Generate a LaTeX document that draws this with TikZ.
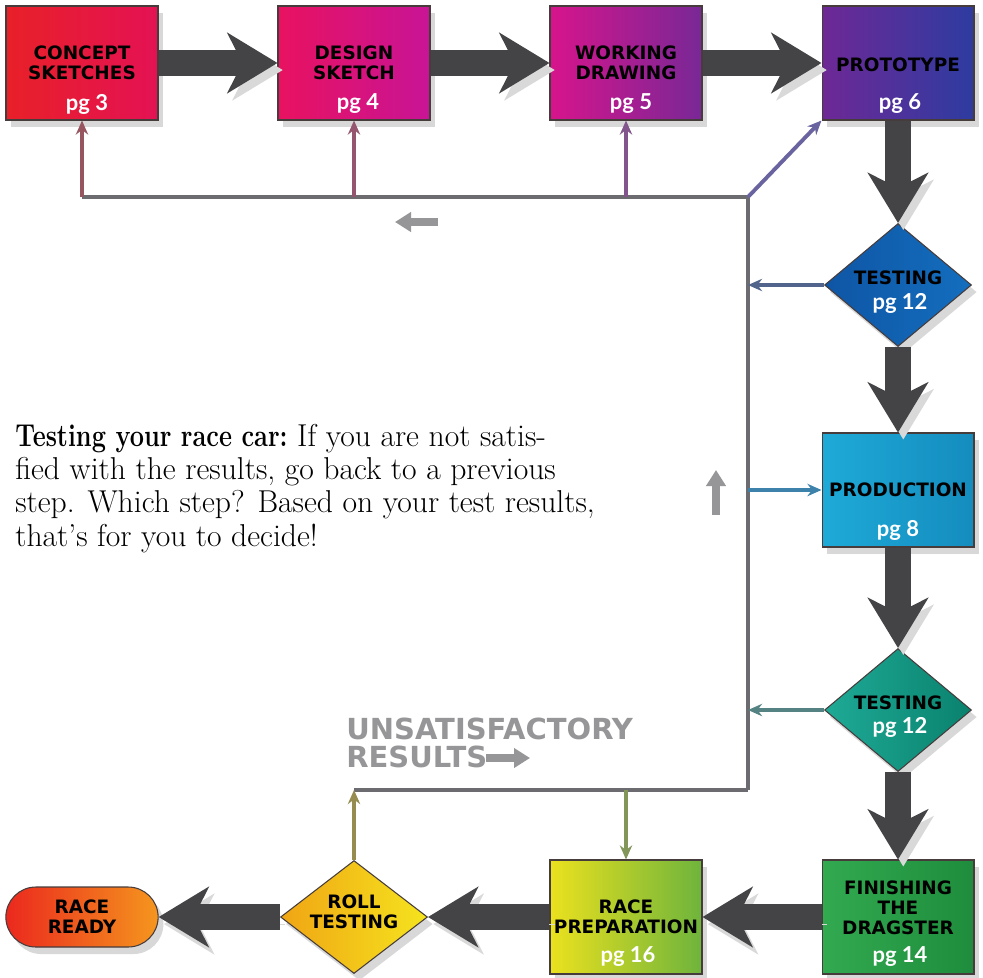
\documentclass[tikz,border=0pt]{standalone}
\usepackage{fontspec}
\newfontfamily\boxfont{DejaVu Sans}
\newfontfamily\pgfont{Lato}
\usetikzlibrary{arrows.meta,shapes.geometric,shapes.misc,shadows}

\definecolor{arrowgray}{RGB}{68,68,70}
\definecolor{linegray}{RGB}{108,108,112}
\definecolor{hintgray}{RGB}{150,150,152}
\definecolor{framegray}{RGB}{70,60,60}
\definecolor{fbconcept}{RGB}{150,85,95}
\definecolor{fbdesign}{RGB}{150,85,110}
\definecolor{fbworking}{RGB}{130,85,140}
\definecolor{fbproto}{RGB}{105,100,160}
\definecolor{fbtesta}{RGB}{80,100,140}
\definecolor{fbprod}{RGB}{60,130,170}
\definecolor{fbtestb}{RGB}{85,130,130}
\definecolor{fbroll}{RGB}{150,140,80}
\definecolor{fbprep}{RGB}{130,150,90}

\begin{document}
\begin{tikzpicture}[x=0.02cm,y=-0.02cm,
  stepbox/.style={draw=framegray, line width=0.6pt, minimum width=3.04cm, minimum height=2.28cm, inner sep=0pt,
    drop shadow={shadow xshift=3pt,shadow yshift=-4pt,opacity=0.3}},
  testbox/.style={diamond, draw=framegray, line width=0.6pt, minimum width=2.94cm, minimum height=2.46cm, inner sep=0pt,
    drop shadow={shadow xshift=3pt,shadow yshift=-4pt,opacity=0.3}},
  title/.style={font=\boxfont\bfseries\fontsize{10.5}{11.5}\selectfont, align=center, inner sep=0pt},
  page/.style={font=\pgfont\bfseries\fontsize{12.5}{12.5}\selectfont, text=white, inner sep=0pt},
  bigarrow/.style={draw=arrowgray, line width=0.52cm, -{Stealth[length=1.0cm,width=1.2cm,inset=0.3cm]},
    preaction={draw=black!15, transform canvas={shift={(3pt,-4pt)}}}},
  fb/.style={draw=linegray, line width=2.2pt},
  fbarrow/.style={line width=2.2pt, -{Stealth[length=8pt,width=7pt]}},
  hint/.style={draw=hintgray, line width=0.17cm, -{Triangle[length=0.32cm,width=0.38cm]}}
]
\fill[white] (0,0) rectangle (983,977);
\useasboundingbox (0,0) rectangle (983,977);

% top row
\node[stepbox, left color={rgb,255:red,232;green,32;blue,40}, right color={rgb,255:red,228;green,18;blue,84}] (cs) at (82,63) {};
\node[title] (cst) at (82,63) {CONCEPT\\SKETCHES};
\node[page] (csp) at (87,104) {pg 3};

\node[stepbox, left color={rgb,255:red,232;green,18;blue,96}, right color={rgb,255:red,200;green,20;blue,150}] (ds) at (354,63) {};
\node[title] (dst) at (354,63) {DESIGN\\SKETCH};
\node[page] (dsp) at (358,104) {pg 4};

\node[stepbox, left color={rgb,255:red,215;green,20;blue,140}, right color={rgb,255:red,120;green,40;blue,150}] (wd) at (626,63) {};
\node[title] (wdt) at (626,63) {WORKING\\DRAWING};
\node[page] (wdp) at (631,104) {pg 5};

\node[stepbox, left color={rgb,255:red,110;green,40;blue,150}, right color={rgb,255:red,45;green,60;blue,160}] (pr) at (898,63) {};
\node[title] (prt) at (898,65) {PROTOTYPE};
\node[page] (prp) at (900,104) {pg 6};

% right column
\node[testbox, left color={rgb,255:red,15;green,85;blue,165}, right color={rgb,255:red,20;green,110;blue,190}] (ta) at (898,285) {};
\node[title] (tat) at (898,278) {TESTING};
\node[page] (tap) at (900,303) {pg 12};

\node[stepbox, left color={rgb,255:red,30;green,170;blue,215}, right color={rgb,255:red,20;green,140;blue,190}] (pd) at (898,490) {};
\node[title] (pdt) at (898,490) {PRODUCTION};
\node[page] (pdp) at (898,530) {pg 8};

\node[testbox, left color={rgb,255:red,30;green,170;blue,150}, right color={rgb,255:red,10;green,130;blue,110}] (tb) at (898,710) {};
\node[title] (tbt) at (898,703) {TESTING};
\node[page] (tbp) at (900,727) {pg 12};

% bottom row
\node[stepbox, left color={rgb,255:red,50;green,170;blue,80}, right color={rgb,255:red,30;green,140;blue,60}] (fd) at (898,917) {};
\node[title] (fdt) at (898,908) {FINISHING\\THE\\DRAGSTER};
\node[page] (fdp) at (900,957) {pg 14};

\node[stepbox, left color={rgb,255:red,235;green,225;blue,30}, right color={rgb,255:red,110;green,180;blue,60}] (rp) at (626,917) {};
\node[title] (rpt) at (626,917) {RACE\\PREPARATION};
\node[page] (rpp) at (628,957) {pg 16};

\node[testbox, minimum height=2.26cm, left color={rgb,255:red,240;green,165;blue,20}, right color={rgb,255:red,245;green,228;blue,30}] (rt) at (354,917) {};
\node[title] (rtt) at (354,912) {ROLL\\TESTING};

\node[rounded rectangle, draw=framegray, line width=0.6pt, minimum width=3.28cm, minimum height=1.2cm,
  left color={rgb,255:red,235;green,40;blue,30}, right color={rgb,255:red,245;green,150;blue,30},
  drop shadow={shadow xshift=3pt,shadow yshift=-4pt,opacity=0.3}] (rr) at (82,917) {};
\node[title] (rrt) at (82,917) {RACE\\READY};

% main flow
\draw[bigarrow] (cs.east) -- (ds.west);
\draw[bigarrow] (ds.east) -- (wd.west);
\draw[bigarrow] (wd.east) -- (pr.west);
\draw[bigarrow] (pr.south) -- (ta.north);
\draw[bigarrow] (ta.south) -- (pd.north);
\draw[bigarrow] (pd.south) -- (tb.north);
\draw[bigarrow] (tb.south) -- (fd.north);
\draw[bigarrow] (fd.west) -- (rp.east);
\draw[bigarrow] (rp.west) -- (rt.east);
\draw[bigarrow] (rt.west) -- (rr.east);

% feedback loop
\coordinate (jtop) at (748,197);
\coordinate (jbot) at (748,790);
\draw[fb] (jbot) -- (jtop) -- (cs.south |- jtop);
\draw[fbarrow, fbconcept] (cs.south |- jtop) -- (cs.south);
\draw[fbarrow, fbdesign] (ds.south |- jtop) -- (ds.south);
\draw[fbarrow, fbworking] (wd.south |- jtop) -- (wd.south);
\draw[fbarrow, fbproto] (jtop) -- (pr.south west);
\draw[fbarrow, fbtesta] (ta.west) -- (ta.west -| jtop);
\draw[fbarrow, fbprod] (pd.west -| jtop) -- (pd.west);
\draw[fbarrow, fbtestb] (tb.west) -- (tb.west -| jtop);
\draw[fb] (jbot) -- (rt.north |- jbot);
\draw[fbarrow, fbroll] (rt.north) -- (rt.north |- jbot);
\draw[fbarrow, fbprep] (rp.north |- jbot) -- (rp.north);

% direction hints
\coordinate (hla) at (438,222);
\coordinate (hlb) at (395,222);
\coordinate (hua) at (716,515);
\coordinate (hub) at (716,470);
\coordinate (hra) at (486,758);
\coordinate (hrb) at (530,758);
\draw[hint] (hla) -- (hlb);
\draw[hint] (hua) -- (hub);

\node[anchor=north west, inner sep=0pt, align=left, text=hintgray,
  font=\boxfont\bfseries\fontsize{16.5}{16}\selectfont] (unsat) at (346,718) {UNSATISFACTORY\\RESULTS};
\draw[hint] (hra) -- (hrb);

\node[anchor=base west, inner sep=0pt, align=left, font=\fontsize{18}{18.8}\selectfont] (note) at (15,546)
  {\scalebox{0.8}[1]{\textbf{Testing your race car:}} If you are not satis-\\
   fied with the results, go back to a previous\\
   step. Which step? Based on your test results,\\
   that’s for you to decide!};
\end{tikzpicture}
\end{document}
